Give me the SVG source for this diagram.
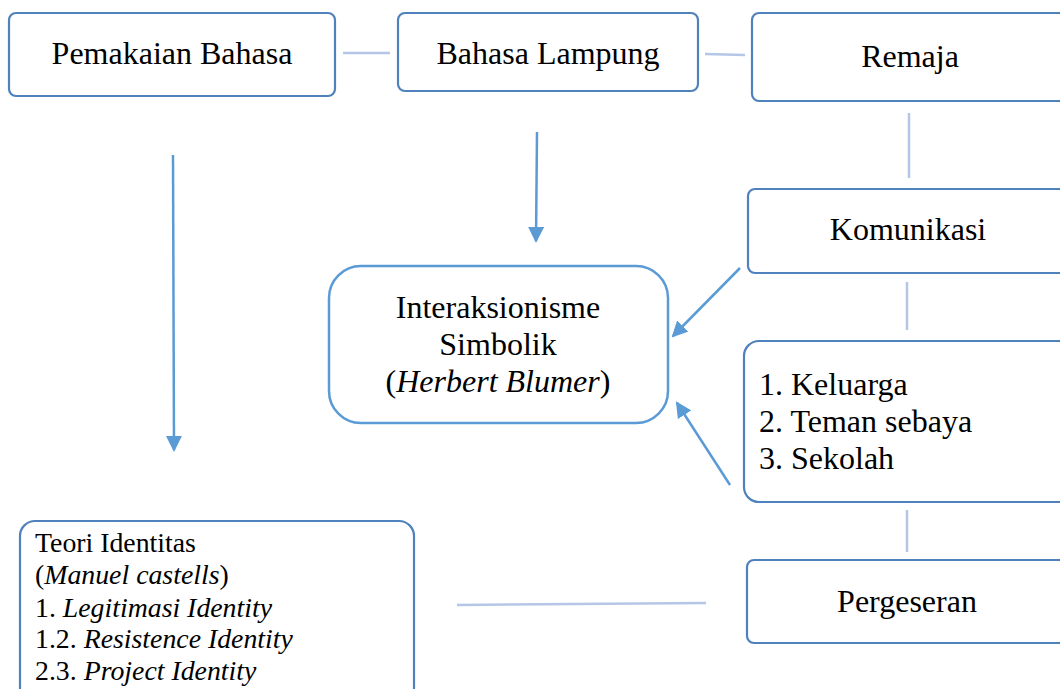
<svg xmlns="http://www.w3.org/2000/svg" width="1060" height="689" viewBox="0 0 1060 689">
<style>
.box{fill:#fff;stroke:#4f81bd;stroke-width:2.2}
.box2{fill:#fff;stroke:#5b9bd5;stroke-width:2.5}
.t{font-family:"Liberation Serif","Times New Roman",serif;font-size:32px;fill:#000}
.s{font-family:"Liberation Serif","Times New Roman",serif;font-size:27.8px;fill:#000}
.c{text-anchor:middle}
.ln{stroke:#b4c7e7;stroke-width:2.5;fill:none}
.ar{stroke:#5b9bd5;stroke-width:2.5;fill:none;marker-end:url(#ah)}
</style>
<defs>
<marker id="ah" markerUnits="userSpaceOnUse" viewBox="0 0 16 16" refX="14" refY="8" markerWidth="16" markerHeight="16" orient="auto">
<path d="M0,0 L16,8 L0,16 Z" fill="#5b9bd5"/>
</marker>
</defs>
<rect width="1060" height="689" fill="#fff"/>
<g id="connectors">
<line class="ln" x1="343" y1="53" x2="390" y2="53"/>
<line class="ln" x1="705" y1="54" x2="745" y2="55"/>
<line class="ln" x1="909" y1="113" x2="909" y2="178"/>
<line class="ln" x1="907" y1="282" x2="907" y2="330"/>
<line class="ln" x1="907" y1="510" x2="907" y2="552"/>
<line class="ln" x1="457" y1="605" x2="706" y2="603"/>
<line class="ar" x1="173" y1="155" x2="174" y2="450"/>
<line class="ar" x1="537" y1="132" x2="536" y2="241"/>
<line class="ar" x1="740" y1="268" x2="673" y2="336"/>
<line class="ar" x1="730" y1="485" x2="677" y2="403"/>
</g>
<g id="pemakaian">
<rect class="box" x="9" y="13" width="326" height="83" rx="7"/>
<text class="t c" x="172" y="64">Pemakaian Bahasa</text>
</g>
<g id="lampung">
<rect class="box" x="398" y="13" width="300" height="78" rx="7"/>
<text class="t c" x="548" y="64">Bahasa Lampung</text>
</g>
<g id="remaja">
<rect class="box" x="752" y="13" width="330" height="88" rx="7"/>
<text class="t c" x="910" y="67">Remaja</text>
</g>
<g id="komunikasi">
<rect class="box" x="748" y="189" width="330" height="84" rx="7"/>
<text class="t c" x="908" y="240">Komunikasi</text>
</g>
<g id="interaksionisme">
<rect class="box2" x="329" y="266" width="339" height="157" rx="32"/>
<text class="t c" x="498" y="318">Interaksionisme</text>
<text class="t c" x="498" y="355">Simbolik</text>
<text class="t c" x="498" y="392">(<tspan font-style="italic">Herbert Blumer</tspan>)</text>
</g>
<g id="faktor">
<rect class="box" x="744" y="341" width="340" height="161" rx="15"/>
<text class="t" x="759" y="395">1. Keluarga</text>
<text class="t" x="759" y="432">2. Teman sebaya</text>
<text class="t" x="759" y="469">3. Sekolah</text>
</g>
<g id="pergeseran">
<rect class="box" x="747" y="560" width="330" height="83" rx="7"/>
<text class="t c" x="907" y="612">Pergeseran</text>
</g>
<g id="teori">
<rect class="box" x="20" y="521" width="394" height="190" rx="15"/>
<text class="s" x="35" y="552">Teori Identitas</text>
<text class="s" x="35" y="584">(<tspan font-style="italic">Manuel castells</tspan>)</text>
<text class="s" x="35" y="617">1. <tspan font-style="italic">Legitimasi Identity</tspan></text>
<text class="s" x="35" y="648">1.2. <tspan font-style="italic">Resistence Identity</tspan></text>
<text class="s" x="35" y="680">2.3. <tspan font-style="italic">Project Identity</tspan></text>
</g>
</svg>
